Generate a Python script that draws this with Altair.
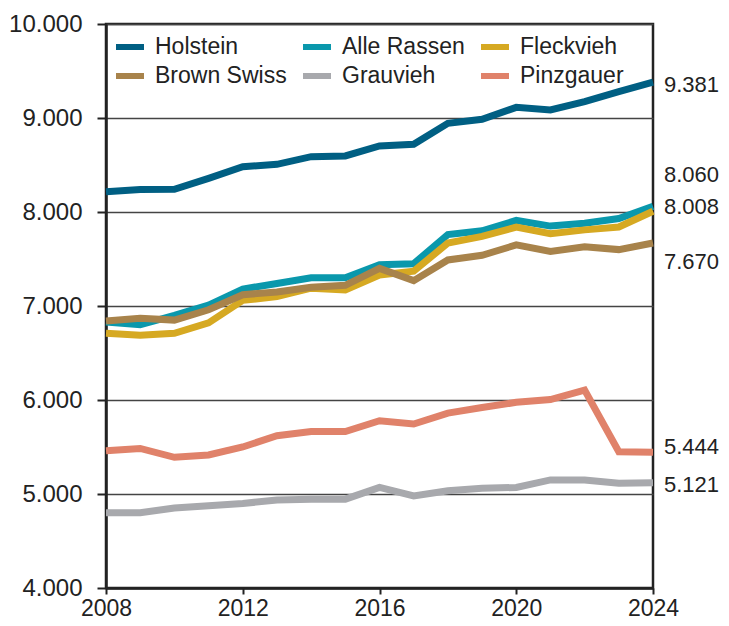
import altair as alt
import pandas as pd

years = list(range(2008, 2025))
breeds = ["Holstein", "Alle Rassen", "Fleckvieh", "Brown Swiss", "Grauvieh", "Pinzgauer"]
colors = ["#005f83", "#0a98ac", "#d6a922", "#a8834b", "#a8a9ad", "#e0826a"]

holstein = [8216, 8240, 8241, 8358, 8482, 8507, 8589, 8596, 8702, 8720, 8943, 8986, 9113, 9085, 9174, 9280, 9381]
alle_rassen = [6830, 6800, 6900, 7010, 7180, 7240, 7300, 7300, 7440, 7450, 7760, 7800, 7910, 7850, 7880, 7930, 8060]
fleckvieh = [6710, 6690, 6710, 6820, 7060, 7100, 7190, 7170, 7330, 7370, 7670, 7740, 7840, 7770, 7810, 7840, 8008]
brown_swiss = [6840, 6870, 6850, 6960, 7120, 7150, 7200, 7220, 7400, 7270, 7490, 7540, 7650, 7580, 7630, 7600, 7670]
grauvieh = [4800, 4800, 4850, 4875, 4900, 4935, 4945, 4945, 5070, 4980, 5035, 5060, 5070, 5150, 5150, 5115, 5121]
pinzgauer = [5460, 5485, 5390, 5415, 5500, 5620, 5665, 5665, 5780, 5745, 5860, 5920, 5975, 6005, 6105, 5450, 5444]

series = [holstein, alle_rassen, fleckvieh, brown_swiss, grauvieh, pinzgauer]

# anchor values (data units) for the end-of-line labels, spread to avoid overlap
# order: Holstein, Alle Rassen, Fleckvieh, Brown Swiss, Grauvieh, Pinzgauer
label_anchor = [9351, 8394, 8053, 7468, 5096, 5500]

y_ticks = [4000, 5000, 6000, 7000, 8000, 9000, 10000]
x_ticks = [2008, 2012, 2016, 2020, 2024]

rows = []
for b, vals in zip(breeds, series):
    for yr, v in zip(years, vals):
        rows.append({"Jahr": yr, "Rasse": b, "Wert": v})
df = pd.DataFrame(rows)

lab = pd.DataFrame({
    "Rasse": breeds,
    "Jahr": [years[-1]] * len(breeds),
    "pos": label_anchor,
    "txt": [f"{s[-1]:,}".replace(",", ".") for s in series],
})

FONT = "Liberation Sans"

x_enc = alt.X("Jahr:Q",
              scale=alt.Scale(domain=[2008, 2024], nice=False, zero=False),
              axis=alt.Axis(values=x_ticks, format="d", title=None, grid=False,
                            tickSize=6, labelPadding=3, labelFlush=False,
                            labelOverlap=False, labelFontSize=23))
y_scale = alt.Scale(domain=[4000, 10000], nice=False, zero=False)

lines = alt.Chart(df).mark_line(strokeWidth=7, strokeJoin="miter").encode(
    x=x_enc,
    y=alt.Y("Wert:Q", scale=y_scale,
            axis=alt.Axis(values=y_ticks, title=None, grid=True,
                          gridColor="#444444", gridWidth=1.5,
                          tickSize=9, labelPadding=15, labelFontSize=24,
                          labelExpr="replace(format(datum.value, ',d'), ',', '.')")),
    color=alt.Color("Rasse:N",
                    scale=alt.Scale(domain=breeds, range=colors),
                    sort=breeds,
                    legend=alt.Legend(title=None, orient="none", legendX=7, legendY=6,
                                      columns=3, direction="horizontal",
                                      symbolType="stroke", symbolSize=784,
                                      symbolStrokeWidth=6, labelFontSize=23,
                                      labelFont=FONT, labelColor="#222222",
                                      labelOffset=8, columnPadding=4, rowPadding=0,
                                      gridAlign="each", padding=0, labelLimit=300)),
    order=alt.Order("Jahr:Q"),
)

labels = alt.Chart(lab).mark_text(align="left", baseline="middle", dx=11,
                                  fontSize=22, font=FONT, color="#222222").encode(
    x=alt.X("Jahr:Q", scale=alt.Scale(domain=[2008, 2024], nice=False, zero=False)),
    y=alt.Y("pos:Q", scale=y_scale),
    text="txt:N",
)

chart = alt.layer(lines, labels).properties(
    width=547, height=564,
    autosize=alt.AutoSizeParams(type="none"),
    padding={"left": 98, "top": 16, "right": 68, "bottom": 34},
).configure_view(
    stroke="#222222", strokeWidth=2.5
).configure_axis(
    domainColor="#222222", domainWidth=2.5, tickColor="#222222", tickWidth=2,
    labelFont=FONT, labelColor="#222222"
)

chart.save("out.html", embed_options={"renderer": "svg", "actions": False})
